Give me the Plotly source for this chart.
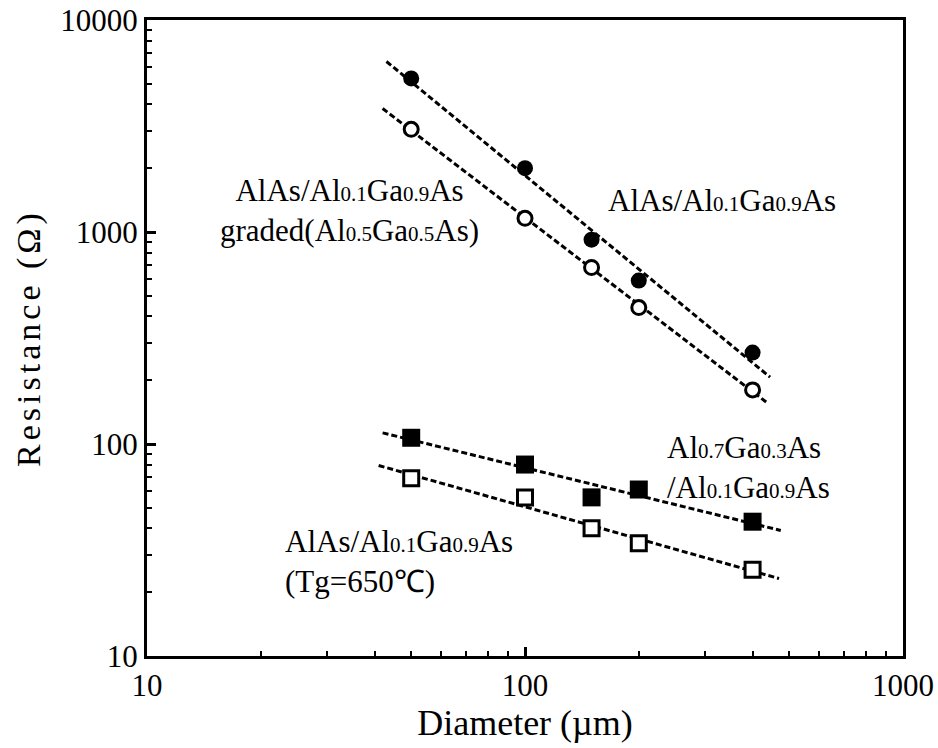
import numpy as np
import plotly.graph_objects as go

# Mesa diameter (um) and measured series resistance (ohm)
diameter = [50, 100, 150, 200, 400]
r_alas = [5300, 2000, 920, 590, 270]          # AlAs/Al0.1Ga0.9As
r_graded = [3050, 1160, 680, 440, 180]        # graded (Al0.5Ga0.5As)
r_al07 = [107, 80, 56, 61, 43]                # Al0.7Ga0.3As/Al0.1Ga0.9As
r_tg650 = [69, 56, 40, 34, 25.5]              # AlAs/Al0.1Ga0.9As, Tg=650C

# x-range covered by each power-law fit line
fit_span_alas = [43, 445]
fit_span_graded = [42, 435]
fit_span_al07 = [42, 475]
fit_span_tg650 = [41, 470]

x_major = [10, 100, 1000]
x_major_text = ["10", "100", "1000"]
y_major = [10, 100, 1000, 10000]
y_major_text = ["10", "100", "1000", "10000"]

FONT = "Liberation Serif, Times New Roman, serif"

fig = go.Figure()


def fit_line(xs, ys, span):
    k, b = np.polyfit(np.log10(xs), np.log10(ys), 1)
    xe = np.array(span, dtype=float)
    return xe, 10 ** (k * np.log10(xe) + b)


series = [
    (r_alas, fit_span_alas, dict(symbol="circle", size=16, color="black")),
    (r_graded, fit_span_graded, dict(symbol="circle", size=14, color="white",
                                     line=dict(color="black", width=3))),
    (r_al07, fit_span_al07, dict(symbol="square", size=18, color="black")),
    (r_tg650, fit_span_tg650, dict(symbol="square", size=15, color="white",
                                   line=dict(color="black", width=3))),
]

for ys, span, marker in series:
    xl, yl = fit_line(diameter, ys, span)
    fig.add_trace(go.Scatter(x=xl, y=yl, mode="lines",
                             line=dict(color="black", width=3, dash="6px,3px"),
                             showlegend=False, hoverinfo="skip"))
for ys, span, marker in series:
    fig.add_trace(go.Scatter(x=diameter, y=ys, mode="markers", marker=marker,
                             showlegend=False))


def sub(s):
    return "<span style='font-size:21px'>" + s + "</span>"


ann_font = dict(family=FONT, size=31, color="black")
L, R, T, B = 147, 35, 20, 92
W, H = 938, 748
pw, ph = W - L - R, H - T - B


def px(x, y):
    return (x - L) / pw, (H - B - y) / ph


labels = [
    ("AlAs/Al" + sub("0.1") + "Ga" + sub("0.9") + "As<br>graded(Al" + sub("0.5")
     + "Ga" + sub("0.5") + "As)", 349, 210, "center"),
    ("AlAs/Al" + sub("0.1") + "Ga" + sub("0.9") + "As", 722, 200, "center"),
    ("Al" + sub("0.7") + "Ga" + sub("0.3") + "As<br>/Al" + sub("0.1") + "Ga"
     + sub("0.9") + "As", 665, 467, "left"),
    ("AlAs/Al" + sub("0.1") + "Ga" + sub("0.9") + "As<br>(Tg=650℃)", 283, 561, "left"),
]
for text, x, y, align in labels:
    ax_, ay_ = px(x, y)
    fig.add_annotation(text=text, x=ax_, y=ay_, xref="paper", yref="paper",
                       xanchor=align, yanchor="middle", align=align,
                       showarrow=False, font=ann_font)

axis_common = dict(
    type="log", showline=True, linecolor="black", linewidth=3, mirror=True,
    ticks="inside", ticklen=9, tickwidth=3, tickcolor="black",
    showgrid=False, zeroline=False, automargin=False,
    tickfont=dict(family=FONT, size=31, color="black"),
)

fig.update_xaxes(
    **axis_common, range=[1, 3], tickvals=x_major, ticktext=x_major_text,
    minor=dict(tickvals=[m * d for d in (10, 100) for m in range(2, 10)],
               ticks="inside", ticklen=5, tickwidth=2, tickcolor="black"),
    title=dict(text="Diameter (µm)", font=dict(family=FONT, size=36, color="black"),
               standoff=8),
)
fig.update_yaxes(
    **axis_common, range=[1, 4], tickvals=y_major, ticktext=y_major_text,
    minor=dict(tickvals=[m * d for d in (10, 100, 1000) for m in range(2, 10)],
               ticks="inside", ticklen=5, tickwidth=2, tickcolor="black"),
    title=dict(text="<span style='letter-spacing:4px'>Resistance (Ω)</span>",
               font=dict(family=FONT, size=34, color="black"), standoff=10),
)

fig.update_layout(
    width=W, height=H,
    margin=dict(l=L, r=R, t=T, b=B),
    paper_bgcolor="white", plot_bgcolor="white",
)

fig.write_html("out.html")
